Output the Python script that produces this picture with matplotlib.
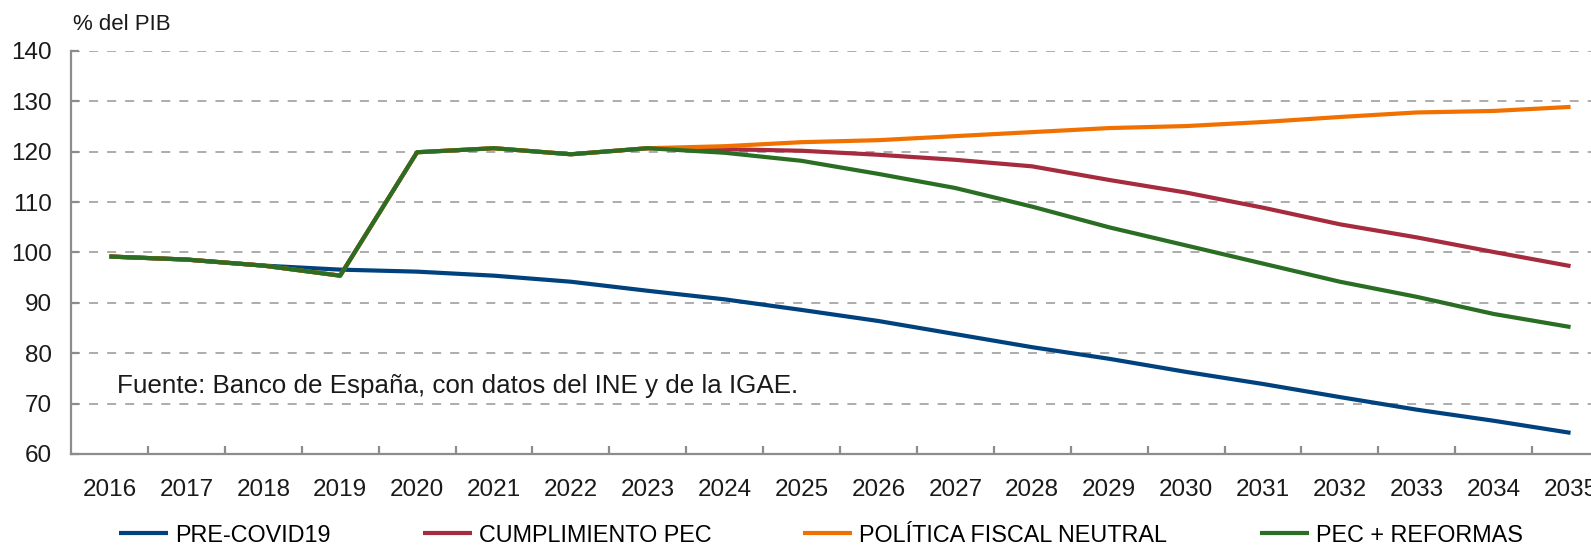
import matplotlib
matplotlib.use('Agg')
import matplotlib.pyplot as plt

plt.rcParams['font.family'] = ['Liberation Sans', 'DejaVu Sans']

years = [str(y) for y in range(2016, 2036)]
pre_covid = [99.2, 98.6, 97.4, 96.6, 96.2, 95.4, 94.2, 92.4, 90.7, 88.6,
             86.4, 83.8, 81.2, 78.9, 76.3, 73.9, 71.3, 68.8, 66.6, 64.2]
cumplimiento = [99.2, 98.6, 97.4, 95.4, 119.9, 120.7, 119.5, 120.7, 120.5, 120.2,
                119.4, 118.4, 117.1, 114.4, 111.9, 108.9, 105.6, 103.0, 100.1, 97.3]
neutral = [99.2, 98.6, 97.4, 95.4, 119.9, 120.7, 119.5, 120.7, 121.1, 121.9,
           122.3, 123.1, 123.9, 124.7, 125.1, 125.9, 126.9, 127.8, 128.1, 128.9]
reformas = [99.2, 98.6, 97.4, 95.4, 119.9, 120.7, 119.5, 120.7, 119.8, 118.2,
            115.6, 112.8, 109.1, 105.0, 101.4, 97.8, 94.2, 91.2, 87.8, 85.2]
labels = ['PRE-COVID19', 'CUMPLIMIENTO PEC', 'POLÍTICA FISCAL NEUTRAL', 'PEC + REFORMAS']
colors = ['#00427E', '#A62B3E', '#F07000', '#2A6E24']

fig = plt.figure(figsize=(15.91, 5.53), dpi=100)
ax = fig.add_axes([71 / 1591, 99 / 553, 1538 / 1591, 403 / 553])

x = list(range(len(years)))
for series, lab, col in zip([pre_covid, cumplimiento, neutral, reformas], labels, colors):
    ax.plot(x, series, color=col, lw=3, label=lab, solid_capstyle='butt')

ax.set_xlim(-0.5, len(years) - 0.5)
ax.set_ylim(60, 140)
ax.set_yticks(range(60, 141, 10))
ax.set_xticks(x)
ax.set_xticklabels(years)
ax.set_xticks([i + 0.5 for i in x], minor=True)

ax.grid(axis='y', color='#A6A6A6', ls=(0, (5, 5)), lw=1.3)
ax.set_axisbelow(True)
for s in ['top', 'right']:
    ax.spines[s].set_visible(False)
for s in ['left', 'bottom']:
    ax.spines[s].set_color('#8C8C8C')
    ax.spines[s].set_linewidth(1.6)

ax.tick_params(axis='x', which='major', length=0, labelsize=17.5, pad=18, colors='#1A1A1A')
ax.tick_params(axis='x', which='minor', length=6, direction='in', color='#8C8C8C', width=1.6)
ax.tick_params(axis='y', length=6, direction='in', color='#8C8C8C', width=1.6,
               labelsize=17.5, pad=14, labelcolor='#1A1A1A')

fig.text(73 / 1591, 1 - 24 / 553, '% del PIB', fontsize=16, va='center', ha='left', color='#1A1A1A')
ax.text(0.1, 73.5, 'Fuente: Banco de España, con datos del INE y de la IGAE.',
        fontsize=18.7, va='center', ha='left', color='#1A1A1A')

fig.legend(loc='center left', bbox_to_anchor=(119 / 1591, 1 - 535 / 553), ncol=4,
           frameon=False, fontsize=16.8, handlelength=2.1, handletextpad=0.3,
           columnspacing=3.95, borderpad=0, borderaxespad=0)

fig.savefig('out.png', dpi=100)
